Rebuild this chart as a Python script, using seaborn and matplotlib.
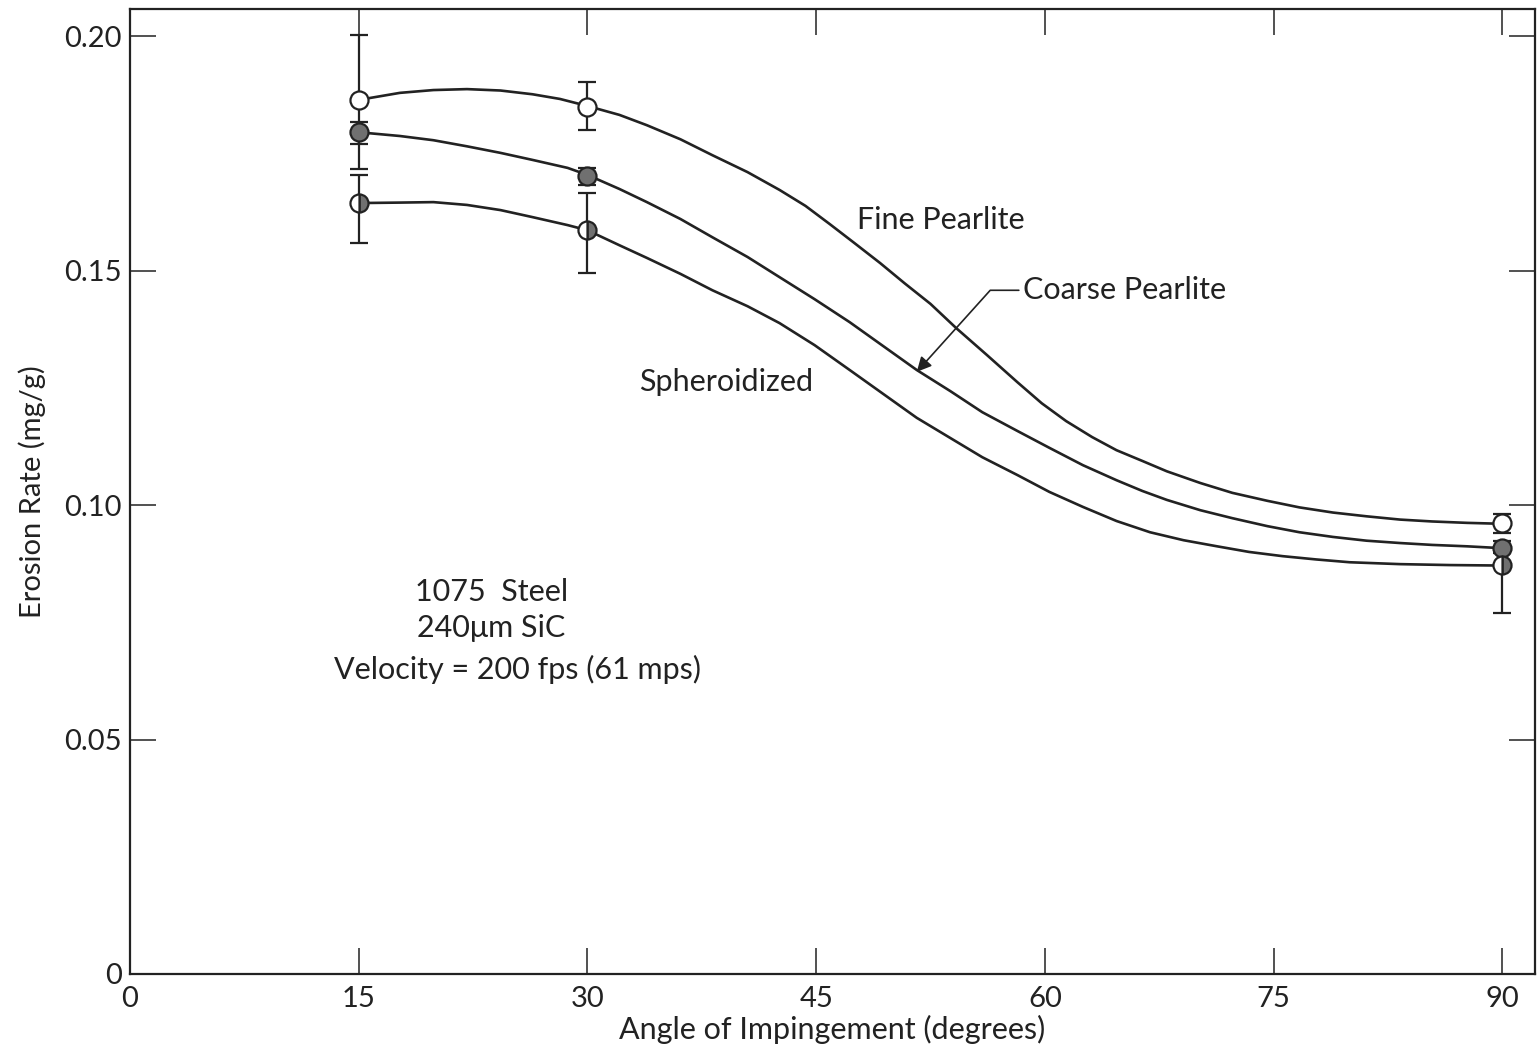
import numpy as np
import pandas as pd
import matplotlib
matplotlib.use("Agg")
import matplotlib.pyplot as plt
import seaborn as sns

# ---------------- data ----------------
angles = [15, 30, 90]

fine_mean = [0.1864, 0.1849, 0.0962]
fine_low = [0.1716, 0.1800, 0.0940]
fine_high = [0.2002, 0.1902, 0.0981]

coarse_mean = [0.1795, 0.1701, 0.0908]
coarse_low = [0.1770, 0.1682, 0.0898]
coarse_high = [0.1817, 0.1719, 0.0923]

sph_mean = [0.1644, 0.1586, 0.0872]
sph_low = [0.1559, 0.1495, 0.0770]
sph_high = [0.1704, 0.1665, 0.0905]

# hand-drawn trend curves
fine_curve_x = [15, 17.7, 19.9, 22.1, 24.3, 26.4, 28.2, 30, 32.1, 33.9, 36.1,
                38.2, 40.5, 42.6, 44.3, 45.9, 47.5, 49.2, 50.8, 52.5, 54.2,
                56.2, 58.2, 59.8, 61.4, 63.1, 64.7, 66.4, 68.0, 70.2, 72.3,
                74.6, 76.7, 78.9, 81.1, 83.3, 85.4, 87.7, 90]
fine_curve_y = [0.1864, 0.1879, 0.1885, 0.1887, 0.1884, 0.1876, 0.1866, 0.1851,
                0.1832, 0.1810, 0.1780, 0.1746, 0.1710, 0.1672, 0.1638, 0.1599,
                0.1559, 0.1516, 0.1473, 0.1429, 0.1377, 0.1320, 0.1262, 0.1217,
                0.1179, 0.1145, 0.1117, 0.1094, 0.1072, 0.1047, 0.1026, 0.1009,
                0.0995, 0.0984, 0.0976, 0.0969, 0.0965, 0.0962, 0.0960]

coarse_curve_x = [15, 17.7, 19.9, 22.1, 24.3, 26.4, 28.7, 30, 32.1, 33.9, 36.1,
                  38.2, 40.5, 42.6, 44.9, 47.2, 49.4, 51.6, 53.8, 55.9, 58.2,
                  60.3, 62.5, 64.7, 66.4, 68.0, 70.2, 72.3, 74.6, 76.7, 78.9,
                  81.1, 83.3, 85.4, 87.7, 90]
coarse_curve_y = [0.1795, 0.1787, 0.1778, 0.1765, 0.1751, 0.1736, 0.1719, 0.1704,
                  0.1674, 0.1646, 0.1610, 0.1571, 0.1529, 0.1486, 0.1439, 0.1390,
                  0.1339, 0.1288, 0.1243, 0.1198, 0.1158, 0.1122, 0.1085, 0.1053,
                  0.1030, 0.1011, 0.0989, 0.0972, 0.0955, 0.0942, 0.0932, 0.0924,
                  0.0919, 0.0915, 0.0912, 0.0908]

sph_curve_x = [15, 17.7, 19.9, 22.1, 24.3, 26.4, 28.7, 30, 32.1, 33.9, 36.1,
               38.2, 40.5, 42.6, 44.9, 47.2, 49.4, 51.6, 53.8, 55.9, 58.2,
               60.3, 62.5, 64.7, 66.9, 69.1, 71.3, 73.4, 75.6, 77.8, 80.0,
               83.3, 86.6, 90]
sph_curve_y = [0.1644, 0.1645, 0.1646, 0.1640, 0.1629, 0.1614, 0.1597, 0.1586,
               0.1554, 0.1527, 0.1493, 0.1458, 0.1424, 0.1388, 0.1341, 0.1288,
               0.1237, 0.1186, 0.1143, 0.1102, 0.1064, 0.1028, 0.0996, 0.0966,
               0.0942, 0.0925, 0.0912, 0.0900, 0.0891, 0.0884, 0.0878, 0.0874,
               0.0872, 0.0871]

x_ticks = [0, 15, 30, 45, 60, 75, 90]
y_ticks = [0, 0.05, 0.10, 0.15, 0.20]
y_tick_labels = ["0", "0.05", "0.10", "0.15", "0.20"]

# ---------------- style ----------------
sns.set_theme(style="ticks")
plt.rcParams["font.family"] = ["Lato", "DejaVu Sans"]
ink = "#222222"

fig = plt.figure(figsize=(15.39, 10.5), dpi=100)
ax = fig.add_axes([0.0845, 0.0724, 0.9129, 0.9191])

curves = pd.concat([
    pd.DataFrame({"angle": fine_curve_x, "rate": fine_curve_y, "steel": "Fine Pearlite"}),
    pd.DataFrame({"angle": coarse_curve_x, "rate": coarse_curve_y, "steel": "Coarse Pearlite"}),
    pd.DataFrame({"angle": sph_curve_x, "rate": sph_curve_y, "steel": "Spheroidized"}),
])
sns.lineplot(data=curves, x="angle", y="rate", hue="steel", units="steel",
             estimator=None, sort=False, palette=[ink, ink, ink],
             linewidth=1.9, legend=False, ax=ax, zorder=2)

def bars(mean, low, high, **kw):
    mean = np.asarray(mean)
    err = np.vstack([mean - np.asarray(low), np.asarray(high) - mean])
    ax.errorbar(angles, mean, yerr=err, fmt="o", color=ink, ecolor=ink,
                elinewidth=1.6, capsize=6.5, capthick=1.6, markersize=13,
                markeredgewidth=1.6, markeredgecolor=ink, zorder=3, **kw)

bars(fine_mean, fine_low, fine_high, markerfacecolor="white")
bars(coarse_mean, coarse_low, coarse_high, markerfacecolor="#707070")
bars(sph_mean, sph_low, sph_high, fillstyle="right",
     markerfacecolor="#707070", markerfacecoloralt="white")

# ---------------- axes ----------------
ax.set_xlim(0, 92.15)
ax.set_ylim(0, 0.2058)
ax.set_xticks(x_ticks)
ax.set_xticklabels([str(v) for v in x_ticks])
ax.set_yticks(y_ticks)
ax.set_yticklabels(y_tick_labels)
ax.tick_params(axis="both", which="both", direction="in", length=19, width=1.1,
               color=ink, top=True, right=True, labelsize=21, labelcolor=ink)
ax.tick_params(axis="x", pad=9)
ax.tick_params(axis="y", pad=6)
for s in ax.spines.values():
    s.set_visible(True)
    s.set_color(ink)
    s.set_linewidth(1.6)

ax.set_xlabel("Angle of Impingement (degrees)", fontsize=22, color=ink, labelpad=2)
ax.set_ylabel("Erosion Rate (mg/g)", fontsize=21, color=ink, labelpad=13)

# ---------------- annotations ----------------
tfs = 22
ax.text(47.7, 0.1608, "Fine Pearlite", fontsize=tfs, color=ink, ha="left", va="center")
ax.text(33.4, 0.1262, "Spheroidized", fontsize=tfs, color=ink, ha="left", va="center")
ax.annotate("Coarse Pearlite", xy=(51.6, 0.1284), xytext=(58.6, 0.1458),
            fontsize=tfs, color=ink, ha="left", va="center",
            arrowprops=dict(arrowstyle="-|>", color=ink, lw=1.2,
                            mutation_scale=22, shrinkA=1, shrinkB=0,
                            relpos=(0, 0.5),
                            connectionstyle="angle,angleA=0,angleB=48,rad=0"))

ax.text(23.7, 0.0814, "1075  Steel", fontsize=tfs, color=ink, ha="center", va="center")
ax.text(23.7, 0.0738, "240\u03bcm SiC", fontsize=tfs, color=ink, ha="center", va="center")
ax.text(25.4, 0.0650, "Velocity = 200 fps (61 mps)", fontsize=tfs, color=ink,
        ha="center", va="center")

fig.savefig("out.png", dpi=100, facecolor="white")
